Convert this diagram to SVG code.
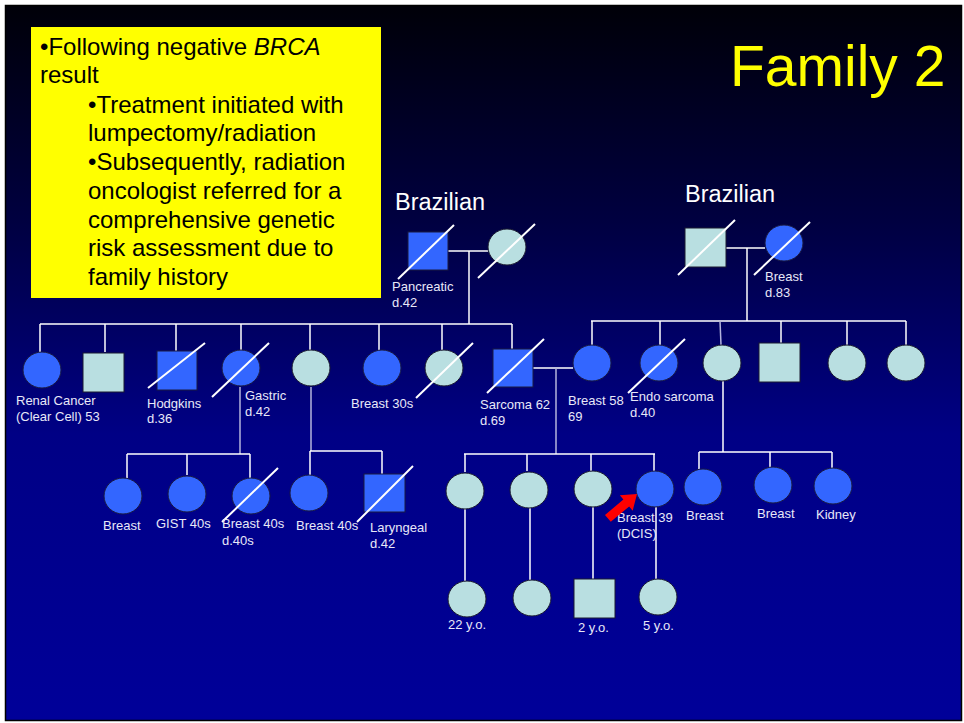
<svg xmlns="http://www.w3.org/2000/svg" width="964" height="723" viewBox="0 0 964 723">
<defs>
<linearGradient id="bg" x1="0" y1="0" x2="0" y2="1">
<stop offset="0" stop-color="#000008"/>
<stop offset="0.3" stop-color="#000040"/>
<stop offset="0.6" stop-color="#000085"/>
<stop offset="1" stop-color="#000099"/>
</linearGradient>
<style>
.a{fill:#3366ff;stroke:#1a1a40;stroke-width:1}
.u{fill:#b9dfe1;stroke:#1a1a30;stroke-width:1}
.sl{stroke:#ffffff;stroke-width:2}
.ln{stroke:#ffffff;stroke-width:1.5;fill:none}
.lg{stroke:#b4b4dc;stroke-width:1.5;fill:none}
.lb{font-family:"Liberation Sans",Arial,sans-serif;font-size:13px;fill:#e8e8f8}
.bx{font-family:"Liberation Sans",Arial,sans-serif;font-size:24px;fill:#000000}
.br{font-family:"Liberation Sans",Arial,sans-serif;font-size:23.5px;fill:#ffffff}
</style>
</defs>
<rect x="0" y="0" width="964" height="723" fill="#ffffff"/>
<rect x="5.5" y="5.5" width="956" height="715" fill="url(#bg)" stroke="#000000" stroke-width="1.5"/>

<g id="title"><text x="730" y="86" font-family="Liberation Sans, Arial, sans-serif" font-size="57" fill="#ffff00">Family 2</text></g>

<g id="notebox">
<rect x="31" y="27" width="350" height="271" fill="#ffff00"/>
<text class="bx" x="40" y="55">•Following negative <tspan font-style="italic">BRCA</tspan></text>
<text class="bx" x="40" y="83">result</text>
<text class="bx" x="88" y="113">•Treatment initiated with</text>
<text class="bx" x="88" y="141">lumpectomy/radiation</text>
<text class="bx" x="88" y="170">•Subsequently, radiation</text>
<text class="bx" x="88" y="199">oncologist referred for a</text>
<text class="bx" x="88" y="228">comprehensive genetic</text>
<text class="bx" x="88" y="256">risk assessment due to</text>
<text class="bx" x="88" y="285">family history</text>
</g>

<g id="labels-origin">
<text class="br" x="395" y="210">Brazilian</text>
<text class="br" x="685" y="202">Brazilian</text>
</g>

<g id="connectors">
<!-- left grandparents -->
<line class="ln" x1="448" y1="251" x2="488" y2="251"/>
<line class="ln" x1="469" y1="251" x2="469" y2="324"/>
<line class="ln" x1="40" y1="324" x2="512" y2="324"/>
<line class="ln" x1="40" y1="324" x2="40" y2="352"/>
<line class="ln" x1="105" y1="324" x2="105" y2="352"/>
<line class="ln" x1="176" y1="324" x2="176" y2="351"/>
<line class="ln" x1="241" y1="324" x2="241" y2="350"/>
<line class="ln" x1="310" y1="324" x2="310" y2="350"/>
<line class="ln" x1="379" y1="324" x2="379" y2="350"/>
<line class="ln" x1="442" y1="324" x2="442" y2="350"/>
<line class="ln" x1="512" y1="324" x2="512" y2="349"/>
<!-- right grandparents -->
<line class="ln" x1="726" y1="248" x2="765" y2="248"/>
<line class="ln" x1="747" y1="248" x2="747" y2="321"/>
<line class="ln" x1="591" y1="321" x2="906" y2="321"/>
<line class="ln" x1="592" y1="321" x2="592" y2="345"/>
<line class="ln" x1="660" y1="321" x2="660" y2="345"/>
<line class="lg" x1="720" y1="321" x2="721" y2="345"/>
<line class="ln" x1="781" y1="321" x2="781" y2="343"/>
<line class="ln" x1="847" y1="321" x2="847" y2="345"/>
<line class="ln" x1="906" y1="321" x2="906" y2="345"/>
<!-- sarcoma couple -->
<line class="ln" x1="533" y1="368" x2="573" y2="368"/>
<line class="lg" x1="556" y1="368" x2="556" y2="454"/>
<line class="ln" x1="464" y1="454" x2="655" y2="454"/>
<line class="ln" x1="465" y1="454" x2="465" y2="472"/>
<line class="ln" x1="527" y1="454" x2="527" y2="471"/>
<line class="ln" x1="591" y1="454" x2="591" y2="471"/>
<line class="ln" x1="654" y1="454" x2="654" y2="471"/>
<!-- gastric branch -->
<line class="lg" x1="240" y1="387" x2="240" y2="454"/>
<line class="ln" x1="127" y1="454" x2="250" y2="454"/>
<line class="ln" x1="127" y1="454" x2="127" y2="478"/>
<line class="ln" x1="187" y1="454" x2="187" y2="475"/>
<line class="ln" x1="250" y1="454" x2="250" y2="478"/>
<!-- middle branch -->
<line class="lg" x1="311" y1="387" x2="311" y2="451"/>
<line class="ln" x1="310" y1="451" x2="382" y2="451"/>
<line class="ln" x1="310" y1="451" x2="310" y2="475"/>
<line class="ln" x1="382" y1="451" x2="382" y2="474"/>
<!-- right branch -->
<line class="ln" x1="723" y1="381" x2="723" y2="452"/>
<line class="ln" x1="699" y1="452" x2="832" y2="452"/>
<line class="ln" x1="699" y1="452" x2="699" y2="469"/>
<line class="ln" x1="770" y1="452" x2="770" y2="467"/>
<line class="ln" x1="832" y1="452" x2="832" y2="468"/>
<!-- gen 4 -->
<line class="ln" x1="465" y1="508" x2="465" y2="581"/>
<line class="ln" x1="530" y1="507" x2="530" y2="580"/>
<line class="ln" x1="593" y1="507" x2="593" y2="579"/>
<line class="ln" x1="656" y1="507" x2="656" y2="579"/>
</g>

<g id="gp-left-father"><rect class="a" x="408" y="232" width="40" height="38"/><line class="sl" x1="398" y1="279" x2="454" y2="225"/>
<text class="lb" x="392" y="291">Pancreatic</text><text class="lb" x="392" y="307">d.42</text></g>
<g id="gp-left-mother"><ellipse class="u" cx="507" cy="247" rx="19" ry="18"/><line class="sl" x1="478" y1="278" x2="535" y2="224"/></g>

<g id="gp-right-father"><rect class="u" x="685" y="228" width="41" height="39"/><line class="sl" x1="678" y1="275" x2="735" y2="220"/></g>
<g id="gp-right-mother"><ellipse class="a" cx="784" cy="243" rx="19" ry="18"/><line class="sl" x1="754" y1="275" x2="810" y2="222"/>
<text class="lb" x="765" y="281">Breast</text><text class="lb" x="765" y="297">d.83</text></g>

<g id="renal"><ellipse class="a" cx="42" cy="370" rx="19" ry="18"/>
<text class="lb" x="16" y="405">Renal Cancer</text><text class="lb" x="16" y="421">(Clear Cell) 53</text></g>
<g id="son1"><rect class="u" x="83" y="353" width="41" height="39"/></g>
<g id="hodgkins"><rect class="a" x="157" y="351" width="40" height="39"/><line class="sl" x1="148" y1="388" x2="205" y2="343"/>
<text class="lb" x="147" y="408">Hodgkins</text><text class="lb" x="147" y="423">d.36</text></g>
<g id="gastric"><ellipse class="a" cx="241" cy="368" rx="19" ry="18"/><line class="sl" x1="212" y1="397" x2="269" y2="343"/>
<text class="lb" x="245" y="400">Gastric</text><text class="lb" x="245" y="416">d.42</text></g>
<g id="aunt-u"><ellipse class="u" cx="311" cy="368" rx="19" ry="18"/></g>
<g id="breast30s"><ellipse class="a" cx="382" cy="368" rx="19" ry="18"/>
<text class="lb" x="351" y="408">Breast 30s</text></g>
<g id="aunt-d"><ellipse class="u" cx="444" cy="368" rx="19" ry="18"/><line class="sl" x1="416" y1="398" x2="473" y2="343"/></g>
<g id="sarcoma"><rect class="a" x="493" y="349" width="40" height="38"/><line class="sl" x1="487" y1="393" x2="544" y2="339"/>
<text class="lb" x="480" y="409">Sarcoma 62</text><text class="lb" x="480" y="425">d.69</text></g>

<g id="breast58"><ellipse class="a" cx="592" cy="363" rx="19" ry="18"/>
<text class="lb" x="568" y="405">Breast 58</text><text class="lb" x="568" y="421">69</text></g>
<g id="endo"><ellipse class="a" cx="659" cy="363" rx="19" ry="18"/><line class="sl" x1="628" y1="393" x2="685" y2="339"/>
<text class="lb" x="630" y="401">Endo sarcoma</text><text class="lb" x="630" y="417">d.40</text></g>
<g id="aunt-r1"><ellipse class="u" cx="722" cy="363" rx="19" ry="18"/></g>
<g id="uncle-r"><rect class="u" x="759" y="343" width="41" height="39"/></g>
<g id="aunt-r2"><ellipse class="u" cx="847" cy="363" rx="19" ry="18"/></g>
<g id="aunt-r3"><ellipse class="u" cx="906" cy="363" rx="19" ry="18"/></g>

<g id="c-breast"><ellipse class="a" cx="123" cy="496" rx="19" ry="18"/><text class="lb" x="103" y="530">Breast</text></g>
<g id="c-gist"><ellipse class="a" cx="187" cy="494" rx="19" ry="18"/><text class="lb" x="156" y="528">GIST 40s</text></g>
<g id="c-breast40d"><ellipse class="a" cx="251" cy="496" rx="19" ry="18"/><line class="sl" x1="222" y1="522" x2="278" y2="468"/>
<text class="lb" x="222" y="528">Breast 40s</text><text class="lb" x="222" y="545">d.40s</text></g>
<g id="c-breast40"><ellipse class="a" cx="309" cy="493" rx="19" ry="18"/><text class="lb" x="296" y="530">Breast 40s</text></g>
<g id="c-laryngeal"><rect class="a" x="364" y="474" width="41" height="38"/><line class="sl" x1="357" y1="522" x2="413" y2="466"/>
<text class="lb" x="370" y="532">Laryngeal</text><text class="lb" x="370" y="548">d.42</text></g>

<g id="s1"><ellipse class="u" cx="465" cy="491" rx="19" ry="18"/></g>
<g id="s2"><ellipse class="u" cx="529" cy="490" rx="19" ry="18"/></g>
<g id="s3"><ellipse class="u" cx="593" cy="489" rx="19" ry="18"/></g>
<g id="proband"><ellipse class="a" cx="655" cy="489" rx="19" ry="18"/>
<text class="lb" x="617" y="522">Breast 39</text><text class="lb" x="617" y="538">(DCIS)</text>
<polygon transform="translate(637,494) rotate(-40)" points="0,0 -14,-10 -14,-4.5 -38,-4.5 -38,4.5 -14,4.5 -14,10" fill="#ff0000"/></g>

<g id="r-breast1"><ellipse class="a" cx="703" cy="487" rx="19" ry="18"/><text class="lb" x="686" y="520">Breast</text></g>
<g id="r-breast2"><ellipse class="a" cx="773" cy="485" rx="19" ry="18"/><text class="lb" x="757" y="518">Breast</text></g>
<g id="r-kidney"><ellipse class="a" cx="833" cy="486" rx="19" ry="18"/><text class="lb" x="816" y="519">Kidney</text></g>

<g id="g4-1"><ellipse class="u" cx="467" cy="599" rx="19" ry="18"/><text class="lb" x="448" y="629">22 y.o.</text></g>
<g id="g4-2"><ellipse class="u" cx="532" cy="598" rx="19" ry="18"/></g>
<g id="g4-3"><rect class="u" x="574" y="579" width="41" height="39"/><text class="lb" x="578" y="632">2 y.o.</text></g>
<g id="g4-4"><ellipse class="u" cx="658" cy="597" rx="19" ry="18"/><text class="lb" x="643" y="630">5 y.o.</text></g>
</svg>
